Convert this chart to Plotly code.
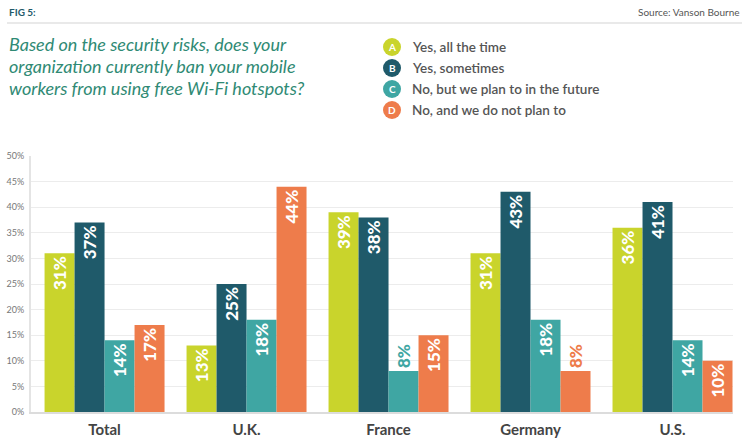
import plotly.graph_objects as go

categories = ["Total", "U.K.", "France", "Germany", "U.S."]
series_names = ["Yes, all the time", "Yes, sometimes",
                "No, but we plan to in the future", "No, and we do not plan to"]
series_letters = ["A", "B", "C", "D"]
yes_all_time = [31, 13, 39, 31, 36]
yes_sometimes = [37, 25, 38, 43, 41]
no_plan_future = [14, 18, 8, 18, 14]
no_not_plan = [17, 44, 15, 8, 10]
y_ticks = [0, 5, 10, 15, 20, 25, 30, 35, 40, 45, 50]

colors = ["#c9d42c", "#1f5a6a", "#3fa6a3", "#ee7c4b"]
series_values = [yes_all_time, yes_sometimes, no_plan_future, no_not_plan]

# plot area in pixels
L, T, W, H = 31, 156, 702, 256
FIG_W, FIG_H = 750, 442


def px(x):
    return (x - L) / W


def py(y):
    return (T + H - y) / H


fig = go.Figure()
for name, vals, col in zip(series_names, series_values, colors):
    positions = ["inside" if v >= 10 else "outside" for v in vals]
    tcolors = ["white" if v >= 10 else col for v in vals]
    fig.add_trace(go.Bar(
        x=categories, y=vals, name=name,
        marker=dict(color=col, line=dict(width=0)),
        text=[f"{v}%" for v in vals],
        textposition=positions,
        textangle=-90,
        insidetextanchor="end",
        constraintext="none",
        cliponaxis=False,
        textfont=dict(family="Lato", size=17, color=tcolors, weight=900),
        showlegend=False,
        hoverinfo="skip",
    ))

annotations = []
shapes = []

# header
annotations.append(dict(text="<b>FIG 5:</b>", x=px(7), y=py(12), xref="paper", yref="paper",
                        xanchor="left", yanchor="middle", showarrow=False,
                        font=dict(family="Lato", size=10, color="#1f5a6a")))
annotations.append(dict(text="Source: Vanson Bourne", x=px(742), y=py(12), xref="paper", yref="paper",
                        xanchor="right", yanchor="middle", showarrow=False,
                        font=dict(family="Lato", size=10, color="#555555")))
shapes.append(dict(type="line", xref="paper", yref="paper", x0=px(7), x1=px(742), y0=py(23), y1=py(23),
                   line=dict(color="#e2e2e2", width=1.5)))

# title
title_lines = ["Based on the security risks, does your",
               "organization currently ban your mobile",
               "workers from using free Wi-Fi hotspots?"]
for i, line in enumerate(title_lines):
    annotations.append(dict(text=f"<i>{line}</i>", x=px(7), y=py(44 + 22 * i), xref="paper", yref="paper",
                            xanchor="left", yanchor="middle", showarrow=False,
                            font=dict(family="Lato", size=18, color="#2f8a74")))

# custom legend
for i, (letter, name, col) in enumerate(zip(series_letters, series_names, colors)):
    cy = py(47 + 21 * i)
    cx = px(392)
    shapes.append(dict(type="circle", xref="paper", yref="paper", xsizemode="pixel", ysizemode="pixel",
                       xanchor=cx, yanchor=cy, x0=-9, x1=9, y0=-9, y1=9,
                       fillcolor=col, line=dict(width=0)))
    annotations.append(dict(text=f"<b>{letter}</b>", x=cx, y=cy, xref="paper", yref="paper",
                            xanchor="center", yanchor="middle", showarrow=False,
                            font=dict(family="Lato", size=10, color="white")))
    annotations.append(dict(text=name, x=px(410), y=cy, xref="paper", yref="paper",
                            xanchor="left", yanchor="middle", showarrow=False,
                            font=dict(family="Lato", size=13.5, color="#555555", weight=600)))

fig.update_layout(
    width=FIG_W, height=FIG_H,
    margin=dict(l=L, r=FIG_W - L - W, t=T, b=FIG_H - T - H, pad=0, autoexpand=False),
    paper_bgcolor="white", plot_bgcolor="white",
    barmode="group", bargap=0.155, bargroupgap=0,
    xaxis=dict(type="category", range=[-0.518, 4.426], showgrid=False, automargin=False,
               showline=True, linecolor="#dcdcdc", linewidth=2, ticks="",
               ticklabelstandoff=3,
               tickfont=dict(family="Lato", size=15, color="#444444", weight="bold")),
    yaxis=dict(range=[0, 50], tickvals=y_ticks, ticktext=[f"{t}%" for t in y_ticks],
               showgrid=True, gridcolor="#ececec", gridwidth=1, automargin=False,
               showline=True, linecolor="#e4e4e4", linewidth=2, ticks="",
               zeroline=False, ticklabelstandoff=3,
               tickfont=dict(family="Lato", size=9, color="#777777")),
    annotations=annotations,
    shapes=shapes,
    font=dict(family="Lato"),
)

fig.write_html("out.html")
